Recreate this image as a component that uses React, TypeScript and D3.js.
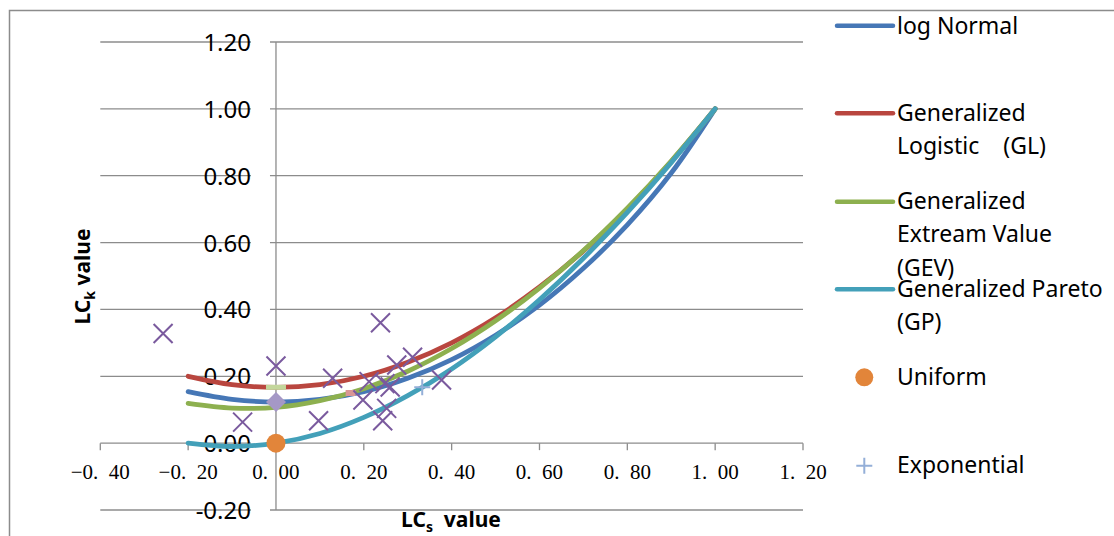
import React from "react";
import * as d3 from "d3";

// theoretical curves at LCs steps of 0.1
const lcsGrid = [-0.2, -0.1, 0, 0.1, 0.2, 0.3, 0.4, 0.5, 0.6, 0.7, 0.8, 0.9, 1.0];
const logNormal = [0.154, 0.131, 0.123, 0.131, 0.154, 0.194, 0.25, 0.323, 0.413, 0.523, 0.653, 0.808, 1.0];
const genLogistic = [0.2, 0.175, 0.167, 0.175, 0.2, 0.242, 0.3, 0.375, 0.467, 0.575, 0.7, 0.842, 1.0];
const genExtreme = [0.119, 0.105, 0.107, 0.127, 0.163, 0.215, 0.283, 0.366, 0.464, 0.576, 0.703, 0.844, 1.0];
const genPareto = [0.0, -0.01, 0.0, 0.029, 0.077, 0.142, 0.222, 0.318, 0.429, 0.553, 0.69, 0.839, 1.0];

// single points
const uniformPt = [0, 0];
const exponentialPt = [0.333, 0.167];
const logisticPt = [0, 0.167];
const normalPt = [0, 0.123];
const gumbelPt = [0.17, 0.15];

// observed stations
const siteLCs = [-0.257, -0.076, 0.0, 0.097, 0.129, 0.198, 0.212, 0.238, 0.243, 0.252, 0.248, 0.26, 0.275, 0.311, 0.377];
const siteLCk = [0.328, 0.063, 0.231, 0.067, 0.194, 0.129, 0.184, 0.36, 0.067, 0.104, 0.178, 0.168, 0.234, 0.257, 0.189];

const xTicks = [-0.4, -0.2, 0, 0.2, 0.4, 0.6, 0.8, 1.0, 1.2];
const yTicks = [-0.2, 0, 0.2, 0.4, 0.6, 0.8, 1.0, 1.2];

const curveNames = ["log Normal", "Generalized Logistic GL", "GEV", "GP"];

const App = () => {
  const ref = React.useRef<SVGSVGElement>(null);

  React.useEffect(() => {
    const svg = d3.select(ref.current);
    svg.selectAll("*").remove();

    const W = 1114, H = 536;
    svg.attr("width", W).attr("height", H);

    const x = d3.scaleLinear().domain([-0.4, 1.2]).range([100.3, 803]);
    const y = d3.scaleLinear().domain([-0.2, 1.2]).range([510, 42]);

    const grid = "#8c8c8c";
    const sans = '"Noto Sans", sans-serif';

    // chart frame
    svg.append("rect")
      .attr("x", 9.5).attr("y", 10.5)
      .attr("width", W + 20).attr("height", H + 20)
      .attr("fill", "white").attr("stroke", grid).attr("stroke-width", 1.5);

    // horizontal gridlines (gap between labels and the axis)
    yTicks.forEach((t) => {
      svg.append("line")
        .attr("x1", x(-0.4)).attr("x2", 251).attr("y1", y(t)).attr("y2", y(t))
        .attr("stroke", grid).attr("stroke-width", 1.3);
      svg.append("line")
        .attr("x1", x(0) - 6).attr("x2", x(1.2)).attr("y1", y(t)).attr("y2", y(t))
        .attr("stroke", grid).attr("stroke-width", 1.3);
    });

    // vertical axis
    svg.append("line")
      .attr("x1", x(0)).attr("x2", x(0)).attr("y1", y(1.2)).attr("y2", y(-0.2))
      .attr("stroke", grid).attr("stroke-width", 1.3);

    // x axis ticks
    xTicks.forEach((t) => {
      svg.append("line")
        .attr("x1", x(t)).attr("x2", x(t)).attr("y1", y(0)).attr("y2", y(0) + 7)
        .attr("stroke", grid).attr("stroke-width", 1.3);
      const s = (t < 0 ? "\u2212" : "") + Math.abs(t).toFixed(2).replace(".", ".\u2002");
      svg.append("text")
        .attr("x", x(t)).attr("y", 478.5)
        .attr("text-anchor", "middle")
        .attr("font-family", '"Liberation Serif", serif')
        .attr("font-size", "21px")
        .attr("fill", "black")
        .text(s);
    });

    // y labels
    yTicks.forEach((t) => {
      svg.append("text")
        .attr("x", 251).attr("y", y(t) + 9)
        .attr("text-anchor", "end")
        .attr("font-family", sans)
        .attr("font-size", "24px")
        .attr("fill", "black")
        .text(t.toFixed(2));
    });

    // axis titles
    const xt = svg.append("text")
      .attr("x", 451).attr("y", 527)
      .attr("text-anchor", "middle")
      .attr("font-family", sans).attr("font-weight", "bold").attr("font-size", "21px")
      .style("white-space", "pre");
    xt.append("tspan").text("LC");
    xt.append("tspan").attr("font-size", "14px").attr("dy", 5).text("s");
    xt.append("tspan").attr("dy", -5).text("  value");

    const yt = svg.append("text")
      .attr("transform", "translate(90,276.5) rotate(-90)")
      .attr("text-anchor", "middle")
      .attr("font-family", sans).attr("font-weight", "bold").attr("font-size", "21px")
      .style("white-space", "pre");
    yt.append("tspan").text("LC");
    yt.append("tspan").attr("font-size", "14px").attr("dy", 5).text("k");
    yt.append("tspan").attr("dy", -5).text(" value");

    // curves
    const series = [
      { vals: logNormal, color: "#4677b6" },
      { vals: genLogistic, color: "#b9463f" },
      { vals: genExtreme, color: "#8db04f" },
      { vals: genPareto, color: "#43a0b9" },
    ];
    const line = d3.line<number>()
      .x((_, i) => x(lcsGrid[i]))
      .y((d) => y(d))
      .curve(d3.curveCatmullRom.alpha(0.5));
    series.forEach((s, i) => {
      svg.append("path")
        .attr("class", curveNames[i])
        .attr("d", line(s.vals))
        .attr("fill", "none")
        .attr("stroke", s.color)
        .attr("stroke-width", 4.8)
        .attr("stroke-linecap", "round");
    });

    // point markers
    svg.append("circle")
      .attr("cx", x(uniformPt[0])).attr("cy", y(uniformPt[1])).attr("r", 9.5)
      .attr("fill", "#e2853a");
    svg.append("path")
      .attr("d", `M${x(exponentialPt[0]) - 8},${y(exponentialPt[1])}h16M${x(exponentialPt[0])},${y(exponentialPt[1]) - 8}v16`)
      .attr("stroke", "#94afd8").attr("stroke-width", 2);
    svg.append("rect")
      .attr("x", x(logisticPt[0]) - 10).attr("y", y(logisticPt[1]) - 2.5)
      .attr("width", 20).attr("height", 5)
      .attr("fill", "#c3d69b");
    svg.append("rect")
      .attr("x", x(gumbelPt[0]) - 5).attr("y", y(gumbelPt[1]) - 3)
      .attr("width", 10).attr("height", 6)
      .attr("fill", "#d99694");
    const nx = x(normalPt[0]), ny = y(normalPt[1]);
    svg.append("path")
      .attr("d", `M${nx},${ny - 10}L${nx + 10},${ny}L${nx},${ny + 10}L${nx - 10},${ny}Z`)
      .attr("fill", "#a598c6");

    // observed X markers
    siteLCs.forEach((v, i) => {
      const cx = x(v), cy = y(siteLCk[i]), r = 9.5;
      svg.append("path")
        .attr("d", `M${cx - r},${cy - r}L${cx + r},${cy + r}M${cx - r},${cy + r}L${cx + r},${cy - r}`)
        .attr("stroke", "#7a5a9e").attr("stroke-width", 2);
    });

    // legend
    const leg = svg.append("g").attr("font-family", sans).attr("font-size", "23px").attr("fill", "black");
    const legLines = [
      { color: "#4677b6", ly: 25.7, rows: ["log Normal"], by: 33.5 },
      { color: "#b9463f", ly: 113.3, rows: ["Generalized", "Logistic    (GL)"], by: 120.5 },
      { color: "#8db04f", ly: 201.7, rows: ["Generalized", "Extream Value", "(GEV)"], by: 208.5 },
      { color: "#43a0b9", ly: 289.3, rows: ["Generalized Pareto", "(GP)"], by: 296.5 },
    ];
    legLines.forEach((l) => {
      leg.append("line")
        .attr("x1", 837).attr("x2", 893).attr("y1", l.ly).attr("y2", l.ly)
        .attr("stroke", l.color).attr("stroke-width", 4.5).attr("stroke-linecap", "round");
      l.rows.forEach((r, j) => {
        leg.append("text")
          .attr("x", 897).attr("y", l.by + j * 33.5)
          .style("white-space", "pre")
          .text(r);
      });
    });
    leg.append("circle").attr("cx", 864.3).attr("cy", 377.3).attr("r", 9).attr("fill", "#e2853a");
    leg.append("text").attr("x", 897).attr("y", 385).text("Uniform");
    leg.append("path")
      .attr("d", "M856.3,465.7h16M864.3,457.7v16")
      .attr("stroke", "#94afd8").attr("stroke-width", 2);
    leg.append("text").attr("x", 897).attr("y", 473).text("Exponential");
  }, []);

  return (
    <svg ref={ref} style={{ position: "absolute", left: 0, top: 0, background: "white" }}></svg>
  );
};

export default App;
